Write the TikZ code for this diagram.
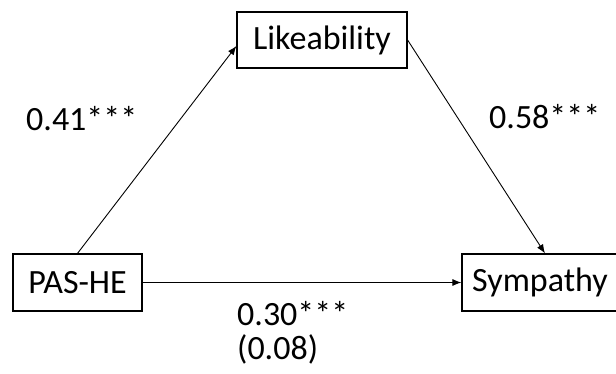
\documentclass[tikz,border=0pt]{standalone}
\usepackage{fontspec}
\setmainfont{Carlito}
\usetikzlibrary{arrows.meta}

\tikzset{
  varbox/.style={draw, line width=1.2pt, fill=white, inner sep=0pt,
    font=\fontsize{34}{38}\selectfont},
  coef/.style={inner sep=0pt, anchor=base west,
    font=\fontsize{34}{38}\selectfont},
  path arrow/.style={-{Latex[length=9pt,width=7pt]}, line width=0.9pt}
}

\begin{document}
\begin{tikzpicture}[x=1pt,y=1pt]
  \useasboundingbox (0pt,0pt) rectangle (616pt,-373pt);

  % variables
  \node[varbox, minimum width=129pt, minimum height=57pt]
    (pas) at (77.5pt,-282.5pt) {PAS-HE};
  \node[varbox, minimum width=170pt, minimum height=56pt]
    (like) at (322pt,-40pt) {Likeability};
  \node[varbox, minimum width=158pt, minimum height=57pt]
    (sym) at (541pt,-282.5pt) {\hspace*{-2pt}Sympathy};

  % paths
  \draw[path arrow] (pas.north) -- ([yshift=-6pt]like.west);
  \draw[path arrow] (like.east) -- ([xshift=4pt]sym.north);
  \draw[path arrow] (pas.east) -- (sym.west);

  % coefficients
  \node[coef] (a) at (26pt,-130pt) {0.41***};
  \node[coef] (b) at (489pt,-128pt) {0.58***};
  \node[coef] (c) at (237pt,-325pt) {0.30***};
  \node[coef] (cp) at (237pt,-359pt) {(0.08)};
\end{tikzpicture}
\end{document}
